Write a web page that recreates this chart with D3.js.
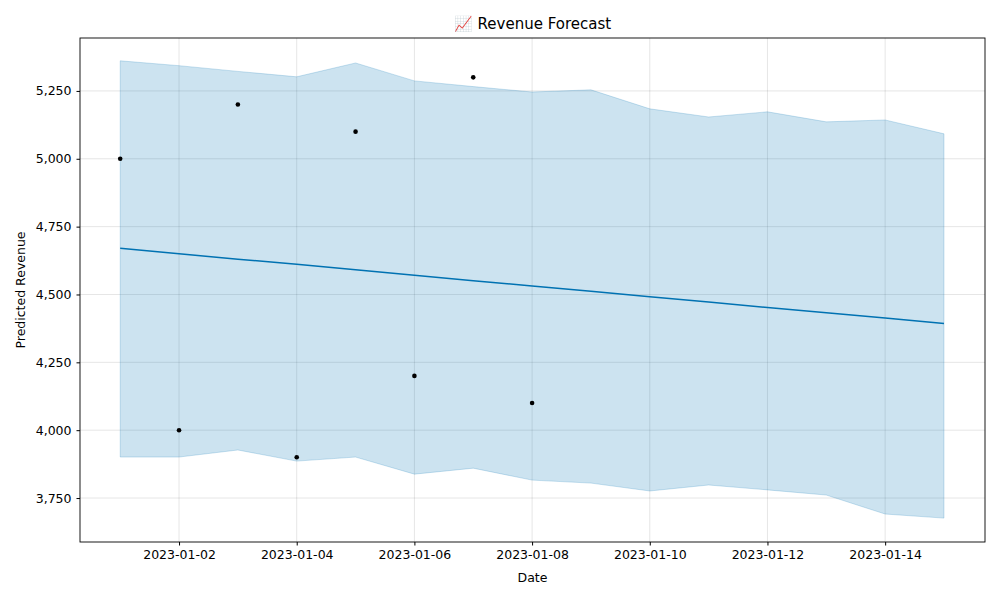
<!DOCTYPE html>
<html><head><meta charset="utf-8">
<script src="https://cdn.jsdelivr.net/npm/d3@7"></script>
<style>body{margin:0;background:#fff;font-family:"DejaVu Sans",sans-serif}</style>
</head><body><div id="container"></div>
<script>
var w = 1000, h = 600;
var margin = {left: 80, right: 15, top: 38, bottom: 58};

var dates = ['2023-01-01','2023-01-02','2023-01-03','2023-01-04','2023-01-05','2023-01-06','2023-01-07','2023-01-08',
  '2023-01-09','2023-01-10','2023-01-11','2023-01-12','2023-01-13','2023-01-14','2023-01-15'];
var actual = [5000, 4000, 5200, 3900, 5100, 4200, 5300, 4100];
var trend = [4670, 4650, 4630, 4611, 4591, 4571, 4551, 4531, 4512, 4492, 4472, 4452, 4433, 4413, 4393];
var upper = [5361, 5343, 5322, 5302, 5353, 5287, 5266, 5246, 5254, 5184, 5154, 5173, 5136, 5143, 5092];
var lower = [3901, 3901, 3927, 3886, 3901, 3838, 3860, 3816, 3805, 3776, 3798, 3780, 3761, 3691, 3676];
var yTicks = [3750, 4000, 4250, 4500, 4750, 5000, 5250];

var parse = d3.utcParse('%Y-%m-%d');
var days = dates.map(parse);
var day = 864e5;

var svg = d3.select('#container').append('svg').attr('width', w).attr('height', h);

var x = d3.scaleUtc()
  .domain([new Date(+days[0] - 0.683 * day), new Date(+days[14] + 0.697 * day)])
  .range([margin.left, w - margin.right]);
var y = d3.scaleLinear().domain([3588, 5445]).range([h - margin.bottom, margin.top]);

var xTicks = d3.range(1, 14, 2).map(function(i) { return days[i]; });

// grid
svg.append('g').selectAll('line').data(xTicks).enter().append('line')
  .attr('x1', function(d) { return x(d); }).attr('x2', function(d) { return x(d); })
  .attr('y1', margin.top).attr('y2', h - margin.bottom)
  .attr('stroke', '#000').attr('stroke-opacity', 0.1);
svg.append('g').selectAll('line').data(yTicks).enter().append('line')
  .attr('y1', function(d) { return y(d); }).attr('y2', function(d) { return y(d); })
  .attr('x1', margin.left).attr('x2', w - margin.right)
  .attr('stroke', '#000').attr('stroke-opacity', 0.1);

// band
var area = d3.area()
  .x(function(d, i) { return x(days[i]); })
  .y0(function(d, i) { return y(lower[i]); })
  .y1(function(d) { return y(d); });
svg.append('path').datum(upper).attr('d', area)
  .attr('fill', '#0072B2').attr('fill-opacity', 0.2)
  .attr('stroke', '#0072B2').attr('stroke-opacity', 0.2);

// trend
svg.append('path').datum(trend)
  .attr('d', d3.line().x(function(d, i) { return x(days[i]); }).y(function(d) { return y(d); }))
  .attr('fill', 'none').attr('stroke', '#0072B2').attr('stroke-width', 1.5);

// actual points
svg.append('g').selectAll('circle').data(actual).enter().append('circle')
  .attr('cx', function(d, i) { return x(days[i]); })
  .attr('cy', function(d) { return y(d); })
  .attr('r', 2.3).attr('fill', '#000');

// axes
var xAxis = svg.append('g').attr('transform', 'translate(0,' + (h - margin.bottom) + ')')
  .call(d3.axisBottom(x).tickValues(xTicks).tickFormat(d3.utcFormat('%Y-%m-%d')).tickSizeOuter(0).tickSize(3.5).tickPadding(5));
var yAxis = svg.append('g').attr('transform', 'translate(' + margin.left + ',0)')
  .call(d3.axisLeft(y).tickValues(yTicks).tickSizeOuter(0).tickSize(3.5).tickPadding(5));
[xAxis, yAxis].forEach(function(a) {
  a.selectAll('text').attr('font-size', 12.5).attr('fill', '#000').attr('font-family', 'DejaVu Sans');
  a.select('.domain').remove();
});

svg.append('rect').attr('x', margin.left).attr('y', margin.top)
  .attr('width', w - margin.left - margin.right).attr('height', h - margin.top - margin.bottom)
  .attr('fill', 'none').attr('stroke', '#000').attr('stroke-width', 0.9);

svg.append('text').attr('x', (margin.left + w - margin.right) / 2).attr('y', 29)
  .attr('text-anchor', 'middle').attr('font-size', 15).text('📈 Revenue Forecast');
svg.append('text').attr('x', (margin.left + w - margin.right) / 2).attr('y', 582)
  .attr('text-anchor', 'middle').attr('font-size', 12.5).text('Date');
svg.append('text').attr('transform', 'translate(25,' + ((margin.top + h - margin.bottom) / 2) + ') rotate(-90)')
  .attr('text-anchor', 'middle').attr('font-size', 12.5).text('Predicted Revenue');
</script>
</body></html>
